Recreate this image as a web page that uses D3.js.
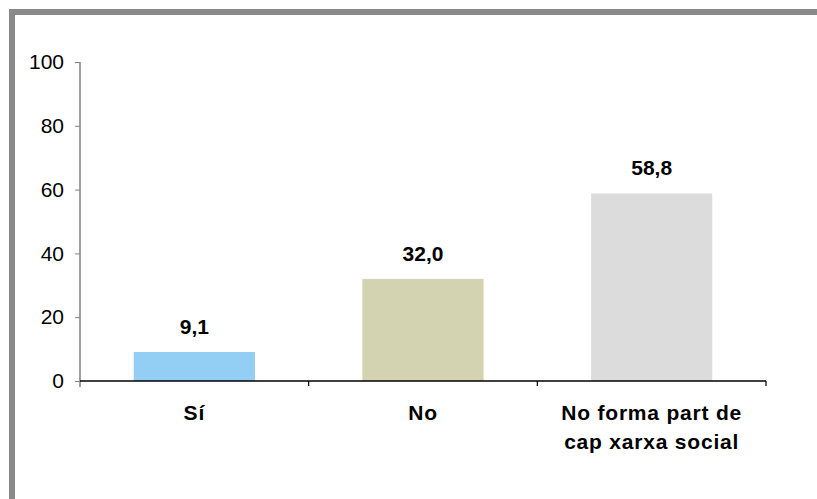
<!DOCTYPE html>
<html>
<head>
<meta charset="utf-8">
<title>Xarxa social</title>
<script src="https://cdn.jsdelivr.net/npm/d3@7"></script>
<style>
  body { margin: 0; background: #fff; }
  text { font-family: Arial, "Liberation Sans", sans-serif; }
</style>
</head>
<body>
<script>
// dades
var categories = ["Sí", "No", "No forma part de|cap xarxa social"];
var values = [9.1, 32.0, 58.8];
var colors = ["#93cff5", "#d3d3b1", "#dcdcdc"];
var yTicks = [0, 20, 40, 60, 80, 100];

var W = 817, H = 499;
var svg = d3.select("body").append("svg")
  .attr("width", W).attr("height", H);

// marc gris
svg.append("rect")
  .attr("x", 12).attr("y", 12)
  .attr("width", 900).attr("height", 600)
  .attr("fill", "none")
  .attr("stroke", "#898989")
  .attr("stroke-width", 6);

var plotLeft = 80, plotRight = 766, plotTop = 62, plotBase = 381;

var x = d3.scaleBand().domain(categories).range([plotLeft, plotRight]).padding(0);
var y = d3.scaleLinear().domain([0, 100]).range([plotBase, plotTop]);

var barW = x.bandwidth() * 0.53;

// eix Y
var yAxis = svg.append("g")
  .attr("transform", "translate(" + plotLeft + ",0)")
  .call(d3.axisLeft(y).tickValues(yTicks).tickSize(5).tickPadding(11));
yAxis.select(".domain").remove();
yAxis.selectAll(".tick line").attr("stroke", "#808080");
yAxis.selectAll(".tick text")
  .attr("font-size", 21)
  .attr("fill", "#000")
  .attr("font-family", "Arial, 'Liberation Sans', sans-serif");
svg.append("line")
  .attr("x1", plotLeft).attr("x2", plotLeft)
  .attr("y1", y(100)).attr("y2", plotBase + 6)
  .attr("stroke", "#808080").attr("stroke-width", 1.5);

// barres
svg.selectAll(".bar")
  .data(values)
  .enter().append("rect")
  .attr("class", "bar")
  .attr("x", function(d, i) { return x(categories[i]) + (x.bandwidth() - barW) / 2; })
  .attr("width", barW)
  .attr("y", function(d) { return y(d); })
  .attr("height", function(d) { return plotBase - y(d); })
  .attr("fill", function(d, i) { return colors[i]; });

// etiquetes de valor
svg.selectAll(".val")
  .data(values)
  .enter().append("text")
  .attr("class", "val")
  .attr("x", function(d, i) { return x(categories[i]) + x.bandwidth() / 2; })
  .attr("y", function(d) { return y(d) - 18; })
  .attr("text-anchor", "middle")
  .attr("font-size", 21)
  .attr("font-weight", "bold")
  .text(function(d) { return d.toFixed(1).replace(".", ","); });

// eix X
svg.append("line")
  .attr("x1", plotLeft).attr("x2", plotRight)
  .attr("y1", plotBase).attr("y2", plotBase)
  .attr("stroke", "#000").attr("stroke-width", 1.5);
var bounds = categories.map(function(c) { return x(c); }).slice(1).concat([plotRight]);
svg.selectAll(".xt")
  .data(bounds)
  .enter().append("line")
  .attr("class", "xt")
  .attr("x1", function(d) { return d; }).attr("x2", function(d) { return d; })
  .attr("y1", plotBase).attr("y2", plotBase + 5)
  .attr("stroke", "#000").attr("stroke-width", 1.2);

// etiquetes de categoria
var cat = svg.selectAll(".cat")
  .data(categories)
  .enter().append("text")
  .attr("class", "cat")
  .attr("text-anchor", "middle")
  .attr("font-size", 21)
  .attr("font-weight", "bold")
  .attr("letter-spacing", 0.8);
cat.each(function(c) {
  var lines = c.split("|");
  var t = d3.select(this);
  lines.forEach(function(l, k) {
    t.append("tspan")
      .attr("x", x(c) + x.bandwidth() / 2)
      .attr("y", 420 + k * 29)
      .text(l);
  });
});
</script>
</body>
</html>
